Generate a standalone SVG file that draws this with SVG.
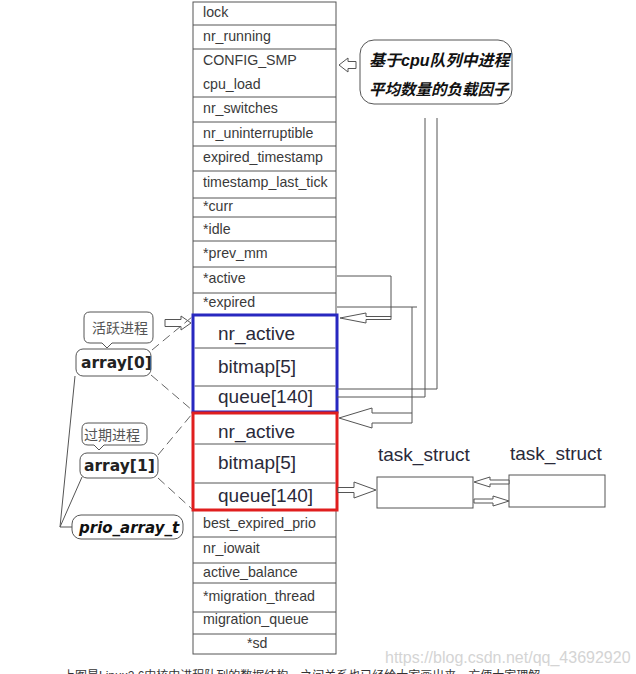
<svg xmlns="http://www.w3.org/2000/svg" width="636" height="674" viewBox="0 0 636 674">
<style>
.ln{stroke:#555;stroke-width:1;fill:none}
.box{stroke:#555;stroke-width:1;fill:#fff}
.fa{stroke:#555;stroke-width:1;fill:#fff;stroke-linejoin:miter}
.dash{stroke:#666;stroke-width:1;fill:none;stroke-dasharray:9 5}
.t{font-family:"Liberation Sans",Arial,sans-serif;font-size:14.2px;fill:#3a3a3a}
.tb{font-family:"Liberation Sans",Arial,sans-serif;font-size:19px;fill:#2a2a3a}
.lb{font-family:"DejaVu Sans",sans-serif;font-size:15.5px;font-weight:bold;fill:#222}
.cn{font-family:"Noto Sans CJK SC",sans-serif;font-size:14px;fill:#555}
.cb{font-family:"Liberation Sans","Noto Sans CJK SC",sans-serif;font-weight:bold;font-style:italic;fill:#111}
.pa{font-family:"DejaVu Sans",sans-serif;font-size:15px;font-weight:bold;font-style:italic;fill:#111}
</style>
<rect width="636" height="674" fill="#fff"/>

<g id="runqueue">
  <rect class="box" x="193" y="2" width="143" height="652"/>
  <path class="ln" d="M193 25H336M193 49H336M193 97H336M193 122H336M193 146H336M193 171H336M193 198H336M193 217H336M193 241H336M193 267H336M193 293H336M193 537H336M193 563H336M193 583H336M193 612H336M193 634H336"/>
  <text class="t" x="203" y="17">lock</text>
  <text class="t" x="203" y="41">nr_running</text>
  <text class="t" x="203" y="65">CONFIG_SMP</text>
  <text class="t" x="203" y="89">cpu_load</text>
  <text class="t" x="203" y="113">nr_switches</text>
  <text class="t" x="203" y="138">nr_uninterruptible</text>
  <text class="t" x="203" y="162">expired_timestamp</text>
  <text class="t" x="203" y="187">timestamp_last_tick</text>
  <text class="t" x="203" y="211">*curr</text>
  <text class="t" x="203" y="234">*idle</text>
  <text class="t" x="203" y="258">*prev_mm</text>
  <text class="t" x="203" y="283">*active</text>
  <text class="t" x="203" y="307">*expired</text>
  <text class="t" x="203" y="528">best_expired_prio</text>
  <text class="t" x="203" y="553">nr_iowait</text>
  <text class="t" x="203" y="577">active_balance</text>
  <text class="t" x="203" y="601">*migration_thread</text>
  <text class="t" x="203" y="624">migration_queue</text>
  <text class="t" x="247" y="648">*sd</text>
</g>

<g id="array0">
  <rect x="193" y="315" width="144" height="97" fill="#fff" stroke="#2828c0" stroke-width="3"/>
  <path class="ln" d="M194.5 348H335.5M194.5 386H335.5"/>
  <text class="tb" x="218" y="340">nr_active</text>
  <text class="tb" x="218" y="373">bitmap[5]</text>
  <text class="tb" x="218" y="403">queue[140]</text>
</g>

<g id="array1">
  <rect x="193" y="413" width="144" height="97" fill="#fff" stroke="#e01e1e" stroke-width="3"/>
  <path class="ln" d="M194.5 444H335.5M194.5 483H335.5"/>
  <text class="tb" x="218" y="438">nr_active</text>
  <text class="tb" x="218" y="469">bitmap[5]</text>
  <text class="tb" x="218" y="502">queue[140]</text>
</g>

<g id="load-note">
  <rect class="box" x="360" y="40" width="152" height="64" rx="14"/>
  <text class="cb" x="369" y="66" font-size="16">基于cpu队列中进程</text>
  <text class="cb" x="369" y="95" font-size="15.5">平均数量的负载因子</text>
</g>

<g id="active-note">
  <path class="box" d="M90 312H147Q153 312 153 318V337Q153 343 147 343H112L107 348L102 343H90Q84 343 84 337V318Q84 312 90 312Z"/>
  <text class="cn" x="92" y="333">活跃进程</text>
</g>
<g id="array0-label">
  <rect class="box" x="76" y="349" width="75" height="27" rx="7"/>
  <text class="lb" x="81" y="368">array[0]</text>
</g>

<g id="expired-note">
  <path class="box" d="M88 423H141Q147 423 147 429V439Q147 445 141 445H104L99 450L94 445H88Q82 445 82 439V429Q82 423 88 423Z"/>
  <text class="cn" x="84" y="440">过期进程</text>
</g>
<g id="array1-label">
  <rect class="box" x="80" y="453" width="78" height="25" rx="7"/>
  <text class="lb" x="84" y="471">array[1]</text>
</g>

<g id="prio-array-t">
  <rect class="box" x="72" y="515" width="111" height="24" rx="9"/>
  <text class="pa" x="79" y="533">prio_array_t</text>
</g>

<g id="task1">
  <text class="tb" x="378" y="461">task_struct</text>
  <rect class="box" x="377" y="477" width="96" height="31"/>
</g>
<g id="task2">
  <text class="tb" x="510" y="460">task_struct</text>
  <rect class="box" x="509" y="475" width="96" height="32"/>
</g>

<g id="connectors">
  <polygon class="fa" points="339,65 348,58 348,61.5 356,61.5 356,68.5 348,68.5 348,72"/>
  <polygon class="fa" points="191,323 181,316 181,319.5 165,319.5 165,326.5 181,326.5 181,330"/>
  <path class="ln" d="M425 118V397H337M437 118V389H337"/>
  <polyline class="ln" points="337,276 391,276 391,317"/>
  <polygon class="fa" points="340,318 366,313 366,316.5 391,316.5 391,319.5 366,319.5 366,323"/>
  <polyline class="ln" points="337,307 417,307"/>
  <line class="ln" x1="412" y1="307" x2="412" y2="413"/>
  <polygon class="fa" points="339,418 372,408 372,413 412,413 412,423 372,423 372,428"/>
  <polygon class="fa" points="376,490 354,482 354,487.5 338,487.5 338,492.5 354,492.5 354,498"/>
  <polygon class="fa" points="474,482 490,477 490,480 509,480 509,484 490,484 490,487"/>
  <polygon class="fa" points="509,501 493,496 493,499 474,499 474,503 493,503 493,506"/>
  <path class="dash" d="M152 350L192 317M151 375L192 410M158 455L192 414M158 478L192 509"/>
  <path class="ln" d="M75 376L60 527L72 527M82 477L60 527"/>
</g>

<text x="385" y="663" font-family="Liberation Sans,Arial,sans-serif" font-size="16" fill="#d4d4d4">https://blog.csdn.net/qq_43692920</text>
<text x="63" y="680" font-family="Liberation Sans,Noto Sans CJK SC,sans-serif" font-size="12" fill="#333">上图是Linux2.6内核中进程队列的数据结构，之间关系也已经给大家画出来，方便大家理解</text>
</svg>
